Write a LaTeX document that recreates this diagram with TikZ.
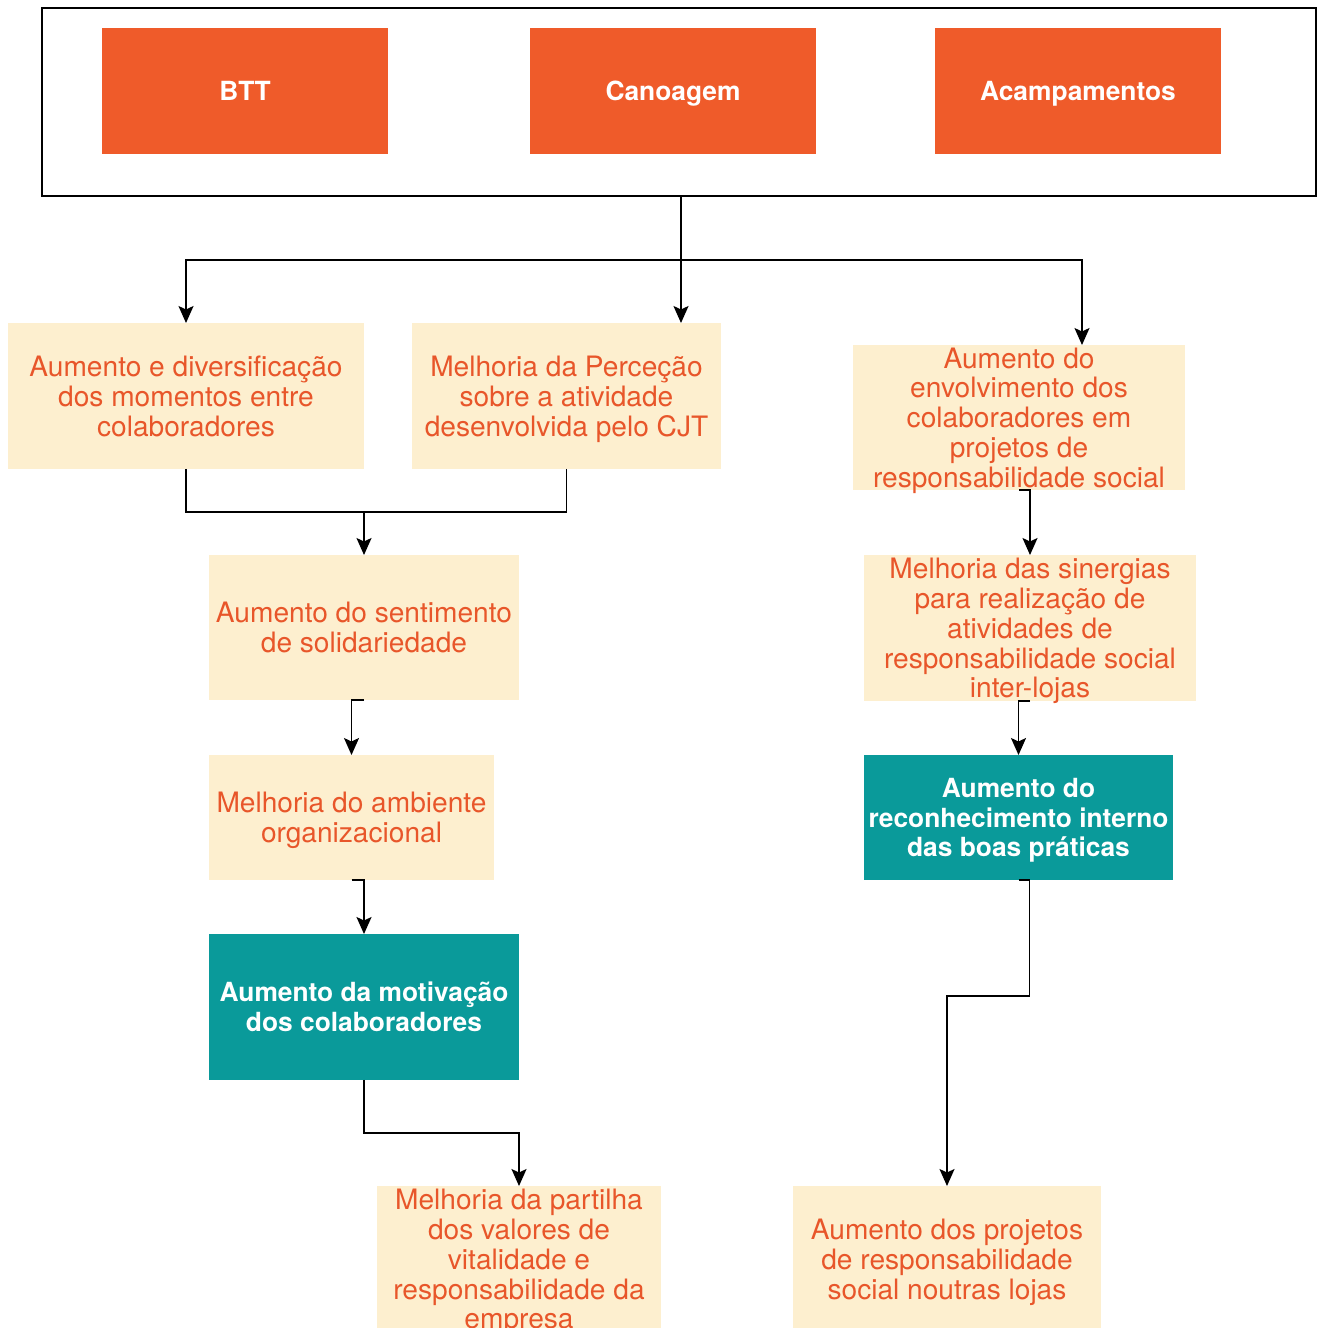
\documentclass[tikz,border=0pt]{standalone}
\usepackage{fontspec}
\setmainfont{TeX Gyre Heros}
\usetikzlibrary{arrows.meta}

\definecolor{actorange}{HTML}{EF5B2A}
\definecolor{effcream}{HTML}{FDEFCF}
\definecolor{efftext}{HTML}{E8562A}
\definecolor{keyteal}{HTML}{0A9A9A}

\tikzset{
	activity/.style={fill=actorange, text=white, inner sep=0pt, outer sep=0pt,
		minimum width=5.72cm, minimum height=2.52cm, text depth=0pt,
		font=\fontsize{15}{17}\selectfont\bfseries},
	effect/.style={fill=effcream, text=efftext, inner sep=0pt, outer sep=0pt, align=center,
		text depth=0pt, font=\fontsize{16}{17}\selectfont},
	keyeffect/.style={fill=keyteal, text=white, inner sep=0pt, outer sep=0pt, align=center,
		text depth=0pt, font=\fontsize{15}{17}\selectfont\bfseries},
	link/.style={draw=black, line width=1.1pt},
	arr/.style={link, -{Stealth[length=0.34cm, width=0.3cm, inset=0.07cm]}}
}

\begin{document}
\begin{tikzpicture}[x=0.02cm, y=-0.02cm]
	\useasboundingbox (0,0) rectangle (1320,1328);

	% activities
	\node[draw=black, line width=1.1pt, minimum width=25.48cm, minimum height=3.76cm, inner sep=0pt, outer sep=0pt] (frame) at (679,102) {};
	\node[activity] (btt) at (245,91) {BTT};
	\node[activity] (canoagem) at (673,91) {Canoagem};
	\node[activity] (acamp) at (1078,91) {Acampamentos};

	% effects
	\node[effect, minimum width=7.12cm, minimum height=2.92cm] (e1) at (186,396) {Aumento e diversificação\\dos momentos entre\\colaboradores};
	\node[effect, minimum width=6.18cm, minimum height=2.92cm] (e2) at (566.5,396) {Melhoria da Perceção\\sobre a atividade\\desenvolvida pelo CJT};
	\node[effect, minimum width=6.64cm, minimum height=2.9cm] (e3) at (1019,417.5) {Aumento do\\envolvimento dos\\colaboradores em\\projetos de\\responsabilidade social};
	\node[effect, minimum width=6.2cm, minimum height=2.9cm] (e4) at (364,627.5) {Aumento do sentimento\\de solidariedade};
	\node[effect, minimum width=5.7cm, minimum height=2.5cm] (e5) at (351.5,817.5) {Melhoria do ambiente\\organizacional};
	\node[keyeffect, minimum width=6.2cm, minimum height=2.92cm] (e6) at (364,1007) {Aumento da motivação\\dos colaboradores};
	\node[effect, minimum width=5.68cm, minimum height=2.92cm] (e7) at (519,1259) {Melhoria da partilha\\dos valores de\\vitalidade e\\responsabilidade da\\empresa};
	\node[effect, minimum width=6.64cm, minimum height=2.92cm] (e8) at (1030,628) {Melhoria das sinergias\\para realização de\\atividades de\\responsabilidade social\\inter-lojas};
	\node[keyeffect, minimum width=6.18cm, minimum height=2.5cm] (e9) at (1018.5,817.5) {Aumento do\\reconhecimento interno\\das boas práticas};
	\node[effect, minimum width=6.16cm, minimum height=2.92cm] (e10) at (947,1259) {Aumento dos projetos\\de responsabilidade\\social noutras lojas};

	% connectors
	\coordinate (split) at (681,260);
	\coordinate (join) at (364,512);
	\draw[arr] (frame.south -| split) -- (split |- e2.north);
	\draw[arr] (split) -| (e1.north);
	\draw[arr] (split) -| ([xshift=1.26cm]e3.north);
	\draw[link] (e1.south) |- (join);
	\draw[link] (e2.south) |- (join);
	\draw[arr] (join) -- (e4.north);
	\draw[arr] (e4.south) -| (e5.north);
	\draw[arr] (e5.south) -| (e6.north);
	\draw[arr] (e6.south) -- ++(0,53) -| (e7.north);
	\draw[arr] (e3.south) -| (e8.north);
	\draw[arr] (e8.south) -| (e9.north);
	\draw[arr] (e9.south) -| ++(11,116) -| (e10.north);
\end{tikzpicture}
\end{document}
